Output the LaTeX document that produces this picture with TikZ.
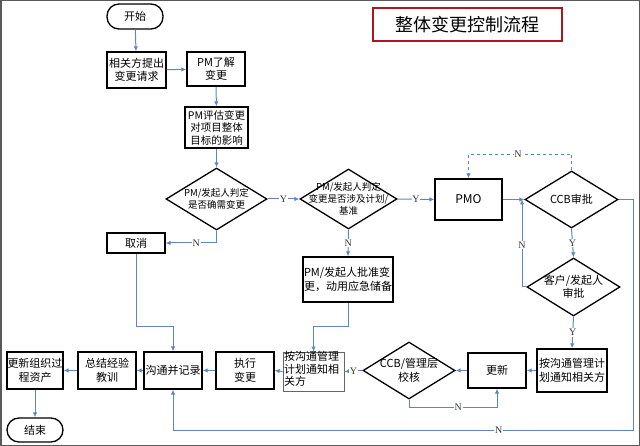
\documentclass[tikz,border=0pt]{standalone}
\usepackage{fontspec}
\setmainfont{Noto Sans CJK SC}
\newfontfamily\labfont{Liberation Serif}
\usetikzlibrary{arrows.meta,shapes.geometric,calc}
\definecolor{conn}{RGB}{96,132,192}
\definecolor{titlered}{RGB}{175,20,35}
\begin{document}
\begin{tikzpicture}[x=1pt,y=-1pt,
  box/.style={draw=black,line width=1.3pt,inner sep=0pt,align=center,font=\fontsize{11}{13.5}\selectfont},
  term/.style={box,rounded corners=12pt},
  dia/.style={draw=black,line width=1.3pt,diamond,inner sep=0pt},
  dtext/.style={align=center,inner sep=0pt},
  arr/.style={draw=conn,line width=1pt,-{Latex[length=5pt,width=4.5pt]}},
  lab/.style={fill=white,inner sep=0.8pt,text=black!80,font=\labfont\fontsize{10}{10}\selectfont}]
\useasboundingbox (0,0) rectangle (640,446);
\draw[line width=1.5pt,black!65] (0.75,0.75) rectangle (639.25,445.25);
% title
\node[draw=titlered,line width=2pt,minimum width=189pt,minimum height=33pt,inner sep=0pt,font=\fontsize{18}{18}\selectfont] (title) at (467.5,24.5) {整体变更控制流程};
% nodes
\node[term,minimum width=56pt,minimum height=25pt] (start) at (135,16.5) {开始};
\node[box,minimum width=59pt,minimum height=36pt] (s1) at (136.5,70) {相关方提出\\变更请求};
\node[box,minimum width=58pt,minimum height=34pt] (pm1) at (216,69) {PM了解\\变更};
\node[box,minimum width=63pt,minimum height=41pt,font=\fontsize{10.5}{12.5}\selectfont] (pm2) at (216.5,127.5) {PM评估变更\\对项目整体\\目标的影响};
\node[dia,minimum width=101pt,minimum height=62pt] (d1) at (216.5,199) {};
\node[dtext,font=\fontsize{9.5}{12.5}\selectfont] (d1t) at (d1) {PM/发起人判定\\是否确需变更};
\node[box,minimum width=58pt,minimum height=20pt] (cancel) at (136,243) {取消};
\node[dia,minimum width=97pt,minimum height=60pt] (d2) at (348.5,199) {};
\node[dtext,font=\fontsize{9.5}{12}\selectfont] (d2t) at (d2) {PM/发起人判定\\变更是否涉及计划/\\基准};
\node[box,minimum width=67pt,minimum height=41pt,font=\fontsize{12}{12}\selectfont] (pmo) at (468.5,199.5) {PMO};
\node[dia,minimum width=93pt,minimum height=57pt] (ccb) at (571.5,199.5) {};
\node[dtext,font=\fontsize{11}{13}\selectfont] (ccbt) at (ccb) {CCB审批};
\node[dia,minimum width=93pt,minimum height=58pt] (cust) at (573.5,287) {};
\node[dtext,font=\fontsize{11}{13.5}\selectfont] (custt) at (cust) {客户/发起人\\审批};
\node[box,minimum width=90pt,minimum height=45pt,align=left] (appr) at (348,279.5) {PM/发起人批准变\\更，动用应急储备};
\node[box,minimum width=70pt,minimum height=43pt] (notR) at (572,370.5) {按沟通管理计\\划通知相关方};
\node[box,minimum width=58pt,minimum height=35pt,font=\fontsize{11}{11}\selectfont] (upd) at (497,370.5) {更新};
\node[dia,minimum width=92pt,minimum height=57pt] (d3) at (409,370.5) {};
\node[dtext,font=\fontsize{11}{14}\selectfont] (d3t) at (d3) {CCB/管理层\\校核};
\node[draw=black!60,line width=0.8pt,inner sep=0pt,minimum width=61pt,minimum height=39pt] (notL) at (313.5,371.5) {};
\node[dtext,align=left,anchor=north west,font=\fontsize{11}{12.5}\selectfont] (notLt) at (284,351.5) {按沟通管理\\计划通知相\\关方};
\node[box,minimum width=58pt,minimum height=37pt] (exec) at (245,370.5) {执行\\变更};
\node[box,minimum width=58pt,minimum height=37pt] (rec) at (173,370.5) {沟通并记录};
\node[box,minimum width=58pt,minimum height=37pt] (sum) at (107,370.5) {总结经验\\教训};
\node[box,minimum width=56pt,minimum height=37pt] (org) at (35,370.5) {更新组织过\\程资产};
\node[term,minimum width=56pt,minimum height=24pt] (end) at (35,430) {结束};
\coordinate (j1) at (522,199.5);
\coordinate (c1) at (633,430);
% connectors
\draw[arr] (start) -- (s1);
\draw[arr] (s1) -- (pm1);
\draw[arr] (pm1) -- (pm2);
\draw[arr] (pm2) -- (d1);
\draw[arr] (d1.east) -- node[lab]{Y} (d2.west);
\draw[arr] (d1.south) |- node[lab,pos=0.7]{N} (cancel.east);
\draw[arr] (cancel.south) -- ++(0,73) -| (rec.north);
\draw[arr] (d2.east) -- node[lab]{Y} (pmo.west);
\draw[arr] (d2.south) -- node[lab]{N} (appr.north);
\draw[arr] (appr.south) -- ++(0,24) -| (notL.north);
\draw[arr] (pmo.east) -- (ccb.west);
\draw[arr,dashed] (ccb.north) -- ++(0,-16) -| node[lab,pos=0.26]{N} (pmo.north);
\draw[arr] (ccb.south) -- node[lab]{Y} (cust.north);
\draw[arr] (cust.west) -| node[lab,pos=0.74]{N} (j1);
\draw[arr] (cust.south) -- node[lab]{Y} (notR.north);
\draw[arr] (notR.west) -- (upd.east);
\draw[arr] (upd.west) -- (d3.east);
\draw[arr] (d3.west) -- node[lab]{Y} (notL.east);
\draw[arr] (d3.south) -- ++(0,8) -| node[lab,pos=0.28]{N} (upd.south);
\draw[arr] (ccb.east) -| (c1) -| node[lab,pos=0.146]{N} (rec.south);
\draw[arr] (notL.west) -- (exec.east);
\draw[arr] (exec.west) -- (rec.east);
\draw[arr] (rec.west) -- (sum.east);
\draw[arr] (sum.west) -- (org.east);
\draw[arr] (org.south) -- (end.north);
\end{tikzpicture}
\end{document}
